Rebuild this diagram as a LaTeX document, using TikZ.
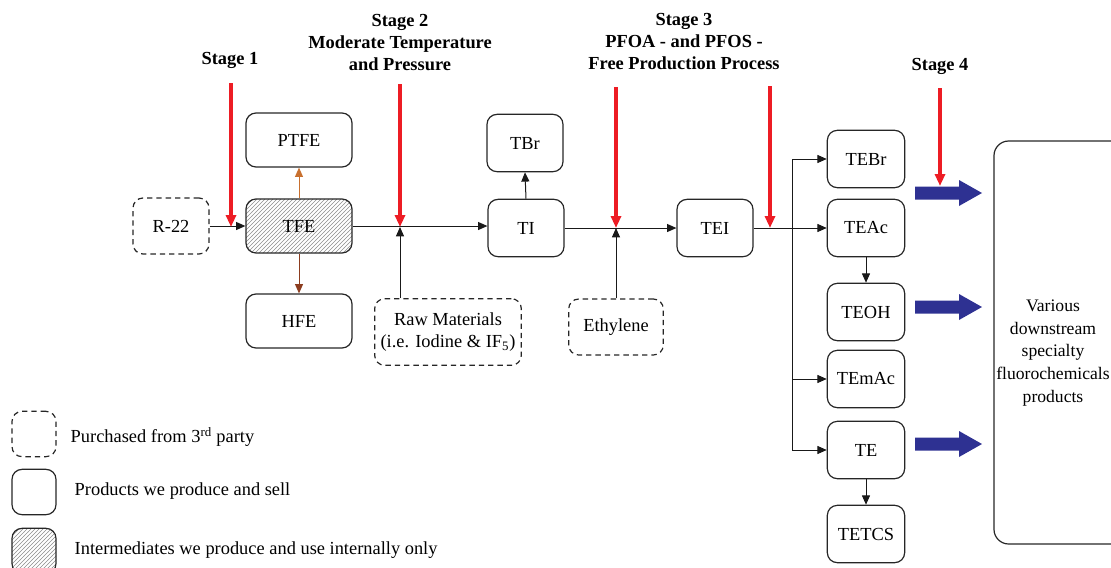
\documentclass[tikz,border=0pt]{standalone}
\usepackage{fontspec}
\setmainfont{Liberation Serif}
\usetikzlibrary{arrows.meta,patterns}

\definecolor{stagered}{HTML}{ED1C24}
\definecolor{flowblue}{HTML}{2E3192}
\definecolor{ptfeorange}{HTML}{C8702F}
\definecolor{hfebrown}{HTML}{8C3D1F}

\tikzset{
  base/.style={rounded corners=7.5pt, line width=0.9pt, draw=black!85,
    align=center, inner sep=0pt, font=\rmfamily\fontsize{13.8}{16.5}\selectfont},
  product/.style={base},
  bought/.style={base, dashed, dash pattern=on 4pt off 3pt},
  internal/.style={base, pattern=north east lines, pattern color=black!45},
  flow/.style={line width=0.75pt, draw=black!90, -{Triangle[length=7pt,width=6pt]}},
  plain/.style={line width=0.75pt, draw=black!90},
  stagearrow/.style={line width=2.4pt, draw=stagered, -{Triangle[length=9pt,width=7.5pt]}},
  stagelabel/.style={align=center, font=\rmfamily\bfseries\fontsize{13.8}{16.5}\selectfont},
  legendtext/.style={anchor=west, font=\rmfamily\fontsize{13.8}{16.5}\selectfont},
  widebox/.style={minimum width=79.5pt, minimum height=40.5pt},
  smallbox/.style={minimum width=57pt, minimum height=43pt},
  colbox/.style={minimum width=58pt, minimum height=43pt},
  legendbox/.style={minimum width=33pt, minimum height=34pt},
  bigarrow/.style={fill=flowblue, draw=none}
}

\begin{document}
\begin{tikzpicture}[x=0.75pt, y=-0.75pt]
\useasboundingbox (0,0) rectangle (1111,568);

% stage headings
\node[stagelabel] (st1) at (230,60) {Stage 1};
\node[stagelabel] (st2) at (400,43) {Stage 2\\Moderate Temperature\\and Pressure};
\node[stagelabel] (st3) at (684,42) {Stage 3\\PFOA - and PFOS -\\Free Production Process};
\node[stagelabel] (st4) at (940,66) {Stage 4};

% process nodes
\node[bought, minimum width=57pt, minimum height=42pt] (r22) at (171,226) {R-22};
\node[internal, widebox] (tfe) at (299,226) {TFE};
\node[product, widebox] (ptfe) at (299,140) {PTFE};
\node[product, widebox] (hfe) at (299,321) {HFE};
\node[bought, minimum width=110pt, minimum height=50pt] (raw) at (448,332)
  {Raw Materials\\(i.e. Iodine \& IF\textsubscript{5})};
\node[product, smallbox] (ti) at (526,228) {TI};
\node[product, smallbox] (tbr) at (525,143) {TBr};
\node[bought, minimum width=71pt, minimum height=42pt] (eth) at (616,327) {Ethylene};
\node[product, smallbox] (tei) at (715,228) {TEI};

\node[product, colbox] (tebr) at (866,159) {TEBr};
\node[product, colbox] (teac) at (866,228) {TEAc};
\node[product, colbox] (teoh) at (866,312) {TEOH};
\node[product, colbox] (temac) at (866,379) {TEmAc};
\node[product, colbox] (te) at (866,450) {TE};
\node[product, colbox] (tetcs) at (866,534) {TETCS};

% junction points on the main line
\coordinate (j1) at (231,227);
\coordinate (j2) at (400,227);
\coordinate (j3) at (616,228);
\coordinate (j4) at (770,228);
\coordinate (trunk) at (792,228);

% main flow
\draw[flow] (r22.east) -- (tfe.west);
\draw[flow] (tfe.east) -- (ti.west |- tfe.east);
\draw[flow] (ti.east) -- (tei.west);
\draw[flow] (tei.east) -- (teac.west);
\draw[flow, ptfeorange] (tfe.north) -- (ptfe.south);
\draw[flow, hfebrown] (tfe.south) -- (hfe.north);
\draw[flow] (ti.north) -- (tbr.south);
\draw[flow] (raw.north -| j2) -- (j2);
\draw[flow] (eth.north) -- (j3);

% distribution trunk
\draw[plain] (trunk |- tebr) -- (trunk |- te);
\draw[flow] (trunk |- tebr) -- (tebr.west);
\draw[flow] (trunk |- temac) -- (temac.west);
\draw[flow] (trunk |- te) -- (te.west);
\draw[flow] (teac.south) -- (teoh.north);
\draw[flow] (te.south) -- (tetcs.north);

% stage markers
\coordinate (s1) at (231,83);
\coordinate (s2) at (400,84);
\coordinate (s3a) at (616,87);
\coordinate (s3b) at (770,86);
\coordinate (s4) at (940,88);
\coordinate (s4end) at (940,186);
\draw[stagearrow] (s1) -- (j1);
\draw[stagearrow] (s2) -- (j2);
\draw[stagearrow] (s3a) -- (j3);
\draw[stagearrow] (s3b) -- (j4);
\draw[stagearrow] (s4) -- (s4end);

% downstream block
\draw[line width=0.9pt, draw=black!85, rounded corners=11pt] (994,141) rectangle (1135,544);
\node[align=center, font=\rmfamily\fontsize{13.2}{16.9}\selectfont] (down) at (1053,353)
  {Various\\downstream\\specialty\\fluorochemicals\\products};

% thick blue transfer arrows
\foreach \yy in {193,307,444} {
  \fill[bigarrow] (915,\yy-6.5) -- (959,\yy-6.5) -- (959,\yy-13) -- (982,\yy)
    -- (959,\yy+13) -- (959,\yy+6.5) -- (915,\yy+6.5) -- cycle;
}

% legend
\node[bought, legendbox] (lg1) at (34,434) {};
\node[legendtext] (lt1) at (66,437) {Purchased from 3\textsuperscript{rd} party};
\node[product, legendbox] (lg2) at (34,492) {};
\node[legendtext] (lt2) at (70,491) {Products we produce and sell};
\node[internal, legendbox] (lg3) at (34,551) {};
\node[legendtext] (lt3) at (70,550) {Intermediates we produce and use internally only};
\end{tikzpicture}
\end{document}
